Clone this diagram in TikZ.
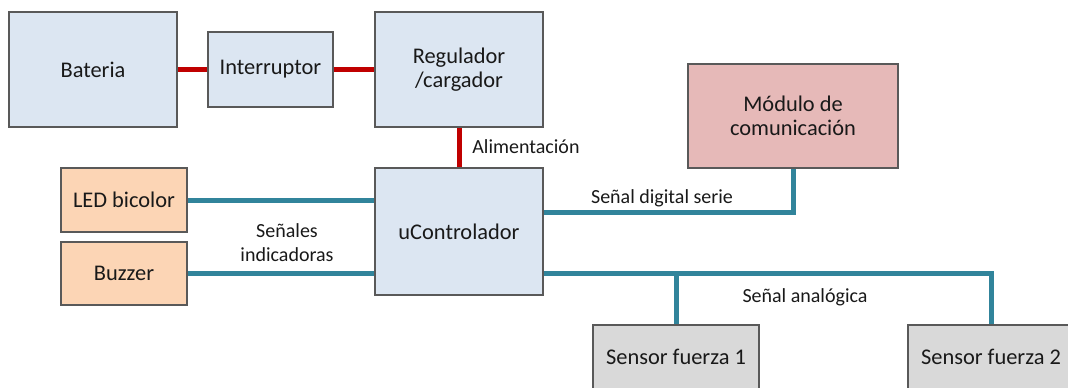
\documentclass[tikz,border=0pt]{standalone}
\usepackage{fontspec}
\setmainfont{Carlito}
\definecolor{boxblue}{HTML}{DCE6F2}
\definecolor{boxorange}{HTML}{FCD5B5}
\definecolor{boxpink}{HTML}{E6B9B8}
\definecolor{boxgray}{HTML}{D9D9D9}
\definecolor{edgegray}{HTML}{595959}
\definecolor{powerred}{HTML}{C00000}
\definecolor{signalteal}{HTML}{31849B}
\tikzset{
  block/.style={draw=edgegray, line width=0.8pt, align=center, inner sep=0pt,
    font=\fontsize{11.2}{12}\selectfont, text=black!90},
  bluebox/.style={block, fill=boxblue},
  orangebox/.style={block, fill=boxorange},
  pinkbox/.style={block, fill=boxpink},
  graybox/.style={block, fill=boxgray},
  power/.style={powerred, line width=2.5pt},
  signal/.style={signalteal, line width=2.5pt},
  lbl/.style={font=\fontsize{10}{12}\selectfont, text=black!90, inner sep=0pt, align=center},
}
\begin{document}
\begin{tikzpicture}[x=0.5pt, y=-0.5pt]
  \useasboundingbox (0,0) rectangle (1068,387);
  \clip (0,0) rectangle (1068,387);

  % power chain
  \node[bluebox, minimum width=84pt, minimum height=57.5pt] (bat) at (93,69.5) {Bateria};
  \node[bluebox, minimum width=62.5pt, minimum height=37.5pt] (sw) at (270.5,69.5) {Interruptor};
  \node[bluebox, minimum width=84pt, minimum height=57.5pt] (reg) at (459,69.5) {Regulador\\/cargador};

  % controller and peripherals
  \node[bluebox, minimum width=84pt, minimum height=63.5pt] (uc) at (459,231.5) {uControlador};
  \node[pinkbox, minimum width=105pt, minimum height=52pt] (com) at (793,116) {Módulo de\\comunicación};
  \node[orangebox, minimum width=63pt, minimum height=32pt] (led) at (124,200) {LED bicolor};
  \node[orangebox, minimum width=63pt, minimum height=31.5pt] (buz) at (124,273.5) {Buzzer};
  \node[graybox, minimum width=83pt, minimum height=32pt] (s1) at (676,357) {Sensor fuerza 1};
  \node[graybox, minimum width=83pt, minimum height=32pt] (s2) at (991,357) {Sensor fuerza 2};

  % power connections
  \draw[power] (bat.east) -- (sw.west);
  \draw[power] (sw.east) -- (reg.west);
  \draw[power] (reg.south) -- (uc.north);

  % signal connections
  \draw[signal] (led.east) -- (uc.west |- led.east);
  \draw[signal] (buz.east) -- (uc.west |- buz.east);
  \draw[signal] (uc.east |- 0,212) -| (com.south);
  \draw[signal] (uc.east |- 0,273) -| (s2.north);
  \draw[signal] (s1.north) -- (s1.north |- 0,273);

  % labels
  \node[lbl, anchor=west] (lalim) at (472,147) {Alimentación};
  \node[lbl] (lser) at (662,198) {Señal digital serie};
  \node[lbl] (lana) at (805,297) {Señal analógica};
  \node[lbl] (lind) at (287,243) {Señales\\indicadoras};
\end{tikzpicture}
\end{document}
